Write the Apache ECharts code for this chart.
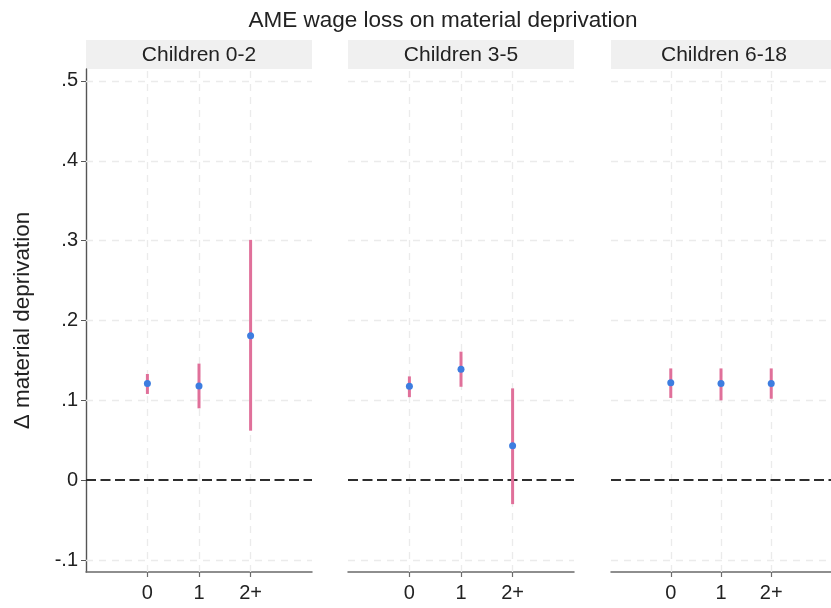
<!DOCTYPE html>
<html>
<head>
<meta charset="utf-8">
<script src="https://cdn.jsdelivr.net/npm/echarts@6/dist/echarts.min.js"></script>
<style>
  html, body { margin: 0; padding: 0; background: #fff; }
  #chart { width: 831px; height: 608px; }
</style>
</head>
<body>
<div id="chart"></div>
<script>
// data
var categories = ['0', '1', '2+'];
var panelNames = ['Children 0-2', 'Children 3-5', 'Children 6-18'];
var estimates = [
  [0.121, 0.118, 0.181],
  [0.1175, 0.139, 0.043],
  [0.122, 0.121, 0.121]
];
var ciLow = [
  [0.108, 0.090, 0.062],
  [0.104, 0.117, -0.030],
  [0.103, 0.100, 0.102]
];
var ciHigh = [
  [0.133, 0.146, 0.301],
  [0.130, 0.161, 0.115],
  [0.140, 0.140, 0.140]
];
var yTicks = [-0.1, 0, 0.1, 0.2, 0.3, 0.4, 0.5];

var FONT = 'Liberation Sans, Arial, sans-serif';
var panelLeft = [86, 348, 611];
var panelWidth = 226;
var plotTop = 69, plotBottom = 36;
var headerTop = 40, headerH = 29;

var fmtY = function (v) {
  if (Math.abs(v) < 1e-9) return '0';
  var s = Math.abs(v).toFixed(1).replace(/^0/, '');
  return (v < 0 ? '-' : '') + s;
};

var grids = [], xAxes = [], yAxes = [], series = [], graphics = [];

panelNames.forEach(function (name, p) {
  grids.push({ left: panelLeft[p], width: panelWidth, top: plotTop, bottom: plotBottom, containLabel: false });

  xAxes.push({
    type: 'value', gridIndex: p, min: -1.19, max: 3.19,
    axisLine: { show: true, onZero: false, lineStyle: { color: '#6a6a6a', width: 1.5 } },
    axisTick: { show: true, customValues: [0, 1, 2], length: 5, lineStyle: { color: '#6a6a6a', width: 1.2 } },
    axisLabel: {
      customValues: [0, 1, 2], margin: 11, fontFamily: FONT, fontSize: 20, color: '#222',
      formatter: function (v) { return categories[Math.round(v)]; }
    },
    splitLine: { show: false }
  });

  yAxes.push({
    type: 'value', gridIndex: p, min: -0.115, max: 0.515,
    name: p === 0 ? 'Δ material deprivation' : '',
    nameLocation: 'middle', nameGap: 52,
    nameTextStyle: { fontFamily: FONT, fontSize: 22.5, color: '#222' },
    axisLine: { show: p === 0, onZero: false, lineStyle: { color: '#555', width: 1.4 } },
    axisTick: { show: p === 0, customValues: yTicks, length: 5, lineStyle: { color: '#555' } },
    axisLabel: {
      show: p === 0, customValues: yTicks, margin: 8, fontFamily: FONT, fontSize: 20, color: '#222',
      formatter: fmtY
    },
    splitLine: { show: false }
  });

  var gridLines = [];
  yTicks.forEach(function (t) { if (t !== 0) gridLines.push({ yAxis: t }); });
  [0, 1, 2].forEach(function (c) { gridLines.push({ xAxis: c }); });

  // light dashed gridlines
  series.push({
    type: 'line', xAxisIndex: p, yAxisIndex: p, data: [], silent: true, z: 1,
    markLine: {
      silent: true, symbol: 'none', label: { show: false }, animation: false, z: 1,
      lineStyle: { color: '#ebebeb', width: 1.3, type: [7, 6] },
      data: gridLines
    }
  });
  // zero reference line
  series.push({
    type: 'line', xAxisIndex: p, yAxisIndex: p, data: [], silent: true, z: 2,
    markLine: {
      silent: true, symbol: 'none', label: { show: false }, animation: false, z: 2,
      lineStyle: { color: '#2e2e2e', width: 1.8, type: [10, 4.5] },
      data: [{ yAxis: 0 }]
    }
  });

  // confidence intervals
  var ciData = categories.map(function (c, i) { return [i, ciLow[p][i], ciHigh[p][i]]; });
  series.push({
    type: 'custom', xAxisIndex: p, yAxisIndex: p, z: 10, data: ciData,
    renderItem: function (params, api) {
      var a = api.coord([api.value(0), api.value(1)]);
      var b = api.coord([api.value(0), api.value(2)]);
      return {
        type: 'line',
        shape: { x1: a[0], y1: a[1], x2: b[0], y2: b[1] },
        style: { stroke: '#e0709a', lineWidth: 3 }
      };
    }
  });

  // point estimates
  series.push({
    type: 'scatter', xAxisIndex: p, yAxisIndex: p, z: 11,
    symbolSize: 7,
    itemStyle: { color: '#3d7de0', opacity: 1 },
    data: categories.map(function (c, i) { return [i, estimates[p][i]]; })
  });

  // panel header strip
  graphics.push({
    type: 'rect', left: panelLeft[p], top: headerTop, silent: true,
    shape: { width: panelWidth, height: headerH },
    style: { fill: '#f0f0f0' }
  });
  graphics.push({
    type: 'text', x: panelLeft[p] + panelWidth / 2, y: headerTop + headerH / 2 + 1, silent: true,
    style: { text: name, fontFamily: FONT, fontSize: 21, fill: '#222', align: 'center', verticalAlign: 'middle' }
  });
});

var chart = echarts.init(document.getElementById('chart'), null, { renderer: 'canvas' });
chart.setOption({
  animation: false,
  backgroundColor: '#fff',
  title: {
    text: 'AME wage loss on material deprivation',
    left: 438, top: 4, textAlign: 'center',
    textStyle: { fontFamily: FONT, fontSize: 22.5, fontWeight: 'normal', color: '#222' }
  },
  grid: grids,
  xAxis: xAxes,
  yAxis: yAxes,
  series: series,
  graphic: graphics
});
</script>
</body>
</html>
